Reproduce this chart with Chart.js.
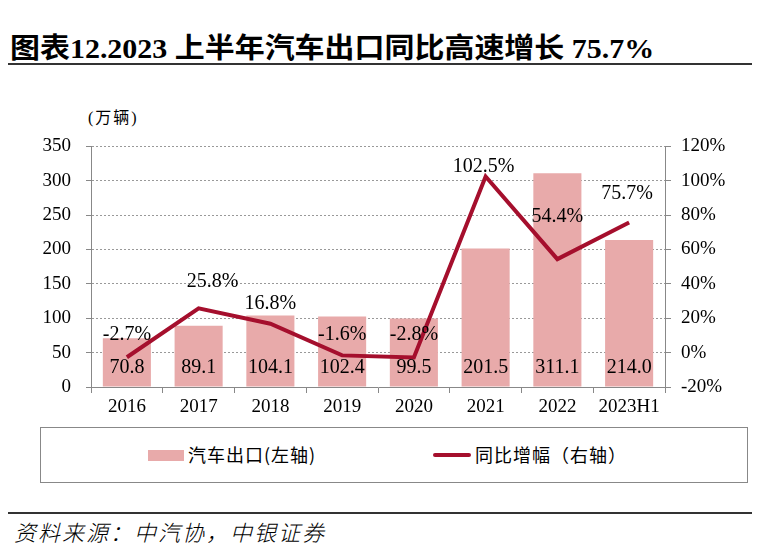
<!DOCTYPE html>
<html>
<head>
<meta charset="utf-8">
<script src="https://cdn.jsdelivr.net/npm/chart.js@4.4.0/dist/chart.umd.min.js"></script>
<style>
  body { margin: 0; background: #fff; }
  #page { position: relative; width: 762px; height: 559px; overflow: hidden; font-family: "Liberation Serif", "Noto Sans CJK SC", serif; color: #000; }
  #title { position: absolute; left: 10px; top: 26px; font-size: 28px; font-weight: bold; white-space: nowrap; transform: scaleX(1.07); transform-origin: left top; }
  .rule { position: absolute; left: 8px; width: 744px; height: 2px; background: #333; }
  #unit { position: absolute; left: 88px; top: 104px; font-size: 16px; letter-spacing: 2px; }
  #wrap { position: absolute; left: 0; top: 120px; width: 762px; height: 300px; }
  #legend { position: absolute; left: 40px; top: 427px; width: 706px; height: 54px; border: 1px solid #888; }
  .item { position: absolute; top: 13px; font-size: 18px; letter-spacing: 1px; font-family: "Noto Sans CJK SC", sans-serif; white-space: nowrap; }
  .sw { display: inline-block; vertical-align: middle; margin-right: 4px; position: relative; top: -2px; }
  #source { position: absolute; left: 14px; top: 515px; font-size: 22px; letter-spacing: 2px; font-weight: 300; font-style: italic; font-family: "Noto Sans CJK SC", sans-serif; }
</style>
</head>
<body>
<div id="page">
  <div id="title">图表12.2023 上半年汽车出口同比高速增长 75.7%</div>
  <div class="rule" style="top:63px"></div>
  <div id="unit">(万辆)</div>
  <div id="wrap"><canvas id="myChart" width="762" height="300"></canvas></div>
  <div id="legend"></div>
  <div class="rule" style="top:512px"></div>
  <div id="source">资料来源：中汽协，中银证券</div>
</div>
<script>
const categories = ['2016', '2017', '2018', '2019', '2020', '2021', '2022', '2023H1'];
const exportVolume = [70.8, 89.1, 104.1, 102.4, 99.5, 201.5, 311.1, 214.0];
const yoyGrowth = [-2.7, 25.8, 16.8, -1.6, -2.8, 102.5, 54.4, 75.7];
const leftTicks = [0, 50, 100, 150, 200, 250, 300, 350];
const rightTicks = [-20, 0, 20, 40, 60, 80, 100, 120];

const barColor = '#E8AAAA';
const lineColor = '#A50F2D';
// label nudges for the growth labels (dx, dy above the point)
const pctDx = [0, 14, 0, 0, 0, -2, 0, -2];
const pctDy = [23, 27, 20, 21, 23, 10, 42, 29];

const labelsPlugin = {
    id: 'valueLabels',
    afterDatasetsDraw(chart) {
        const ctx = chart.ctx;
        ctx.save();
        ctx.fillStyle = '#000';
        ctx.textAlign = 'center';
        ctx.textBaseline = 'middle';
        ctx.font = '20px "Liberation Serif"';
        const bars = chart.getDatasetMeta(0).data;
        const zero = chart.scales.y.getPixelForValue(0);
        bars.forEach((b, i) => {
            ctx.fillText(exportVolume[i].toFixed(1), b.x, zero - 19);
        });
        const pts = chart.getDatasetMeta(1).data;
        pts.forEach((p, i) => {
            ctx.fillText(yoyGrowth[i].toFixed(1) + '%', p.x + pctDx[i], p.y - pctDy[i]);
        });
        ctx.restore();
    }
};

const tickFont = { family: 'Liberation Serif', size: 19 };

const chart = new Chart(document.getElementById('myChart').getContext('2d'), {
    data: {
        labels: categories,
        datasets: [{
            type: 'bar',
            label: '汽车出口(左轴)',
            data: exportVolume,
            backgroundColor: barColor,
            yAxisID: 'y',
            order: 2,
            categoryPercentage: 1,
            barPercentage: 0.67
        }, {
            type: 'line',
            label: '同比增幅（右轴）',
            data: yoyGrowth,
            borderColor: lineColor,
            backgroundColor: lineColor,
            borderWidth: 4,
            pointRadius: 0,
            tension: 0,
            yAxisID: 'y1',
            order: 1
        }]
    },
    options: {
        responsive: false,
        animation: false,
        layout: { padding: { top: 15, left: 0, right: 0, bottom: 0 } },
        plugins: { legend: { display: false }, tooltip: { enabled: false } },
        scales: {
            x: {
                grid: { drawOnChartArea: false, drawTicks: true, tickLength: 6, color: '#888' },
                border: { color: '#888', width: 1 },
                ticks: { font: tickFont, color: '#000', padding: 3, maxRotation: 0 },
                afterFit: s => { s.height = 33; }
            },
            y: {
                position: 'left',
                min: 0, max: 350,
                afterBuildTicks: s => { s.ticks = leftTicks.map(v => ({ value: v })); },
                grid: { color: '#999', tickLength: 5, tickColor: '#888' },
                border: { color: '#888', width: 1, dash: [2, 2] },
                ticks: { font: tickFont, color: '#000', padding: 15 },
                afterFit: s => { s.width = 91; }
            },
            y1: {
                position: 'right',
                min: -20, max: 120,
                afterBuildTicks: s => { s.ticks = rightTicks.map(v => ({ value: v })); },
                grid: { drawOnChartArea: false, tickLength: 6, color: '#888' },
                border: { color: '#888', width: 1 },
                ticks: { font: tickFont, color: '#000', padding: 10, callback: v => v + '%' },
                afterFit: s => { s.width = 97; }
            }
        }
    },
    plugins: [labelsPlugin]
});

// legend drawn from the dataset labels
const legend = document.getElementById('legend');
const legendX = [107, 392];
chart.data.datasets.forEach((ds, i) => {
    const el = document.createElement('div');
    el.className = 'item';
    el.style.left = legendX[i] + 'px';
    const sw = document.createElement('span');
    sw.className = 'sw';
    if (ds.type === 'bar') {
        sw.style.width = '36px'; sw.style.height = '11px'; sw.style.background = ds.backgroundColor;
    } else {
        sw.style.width = '38px'; sw.style.height = '4px'; sw.style.background = ds.borderColor; sw.style.borderRadius = '2px';
    }
    el.appendChild(sw);
    el.appendChild(document.createTextNode(ds.label));
    legend.appendChild(el);
});
</script>
</body>
</html>
